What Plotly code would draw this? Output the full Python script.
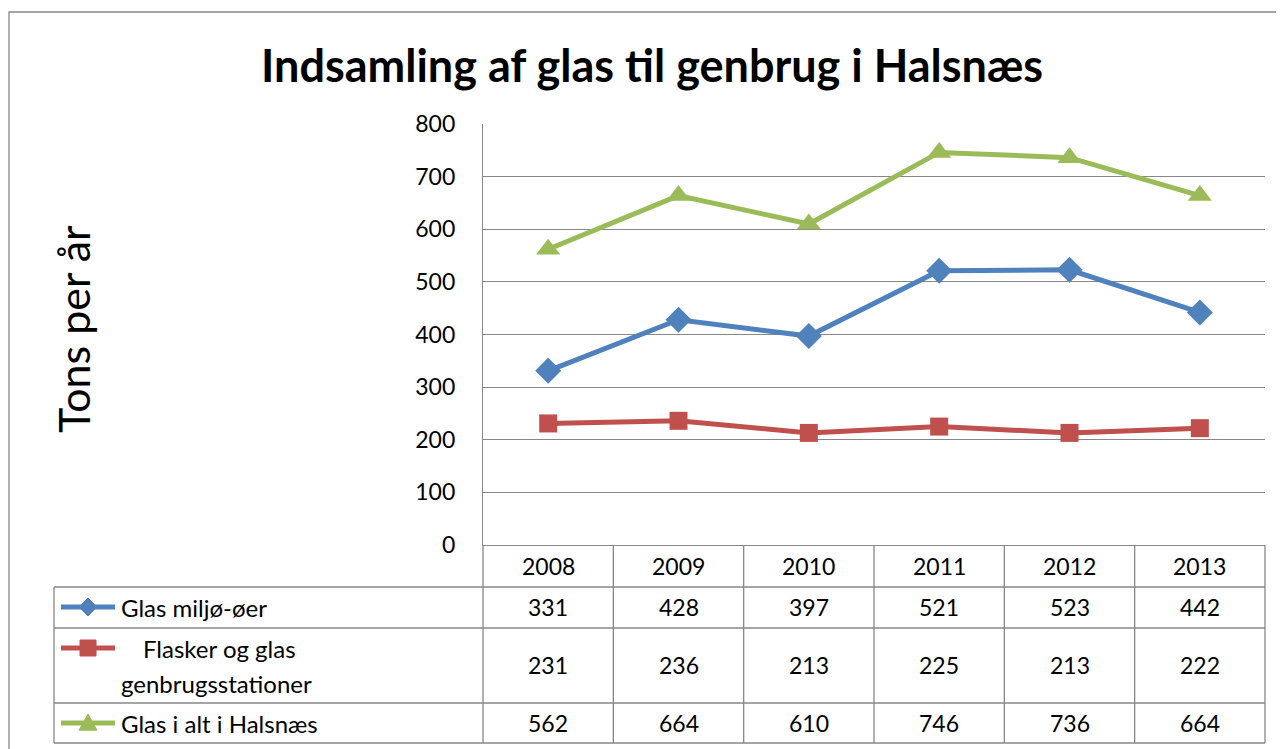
import plotly.graph_objects as go

years = ["2008", "2009", "2010", "2011", "2012", "2013"]
series_names = ["Glas miljø-øer", "Flasker og glas genbrugsstationer", "Glas i alt i Halsnæs"]
miljo = [331, 428, 397, 521, 523, 442]
flasker = [231, 236, 213, 225, 213, 222]
i_alt = [562, 664, 610, 746, 736, 664]
y_ticks = [0, 100, 200, 300, 400, 500, 600, 700, 800]

title_text = "Indsamling af glas til genbrug i Halsnæs"
y_title = "Tons per år"

BLUE = "#4F81BD"
RED = "#C0504D"
GREEN = "#9BBB59"
GRID = "#878787"
FONT = "Lato"

OFF = 8  # page body margin
W, H = 1284 - OFF, 749 - OFF
L, R, T, B = 483, 1265, 124, 545  # plot area in screen pixels
PW, PH = R - L, B - T


def px2x(px):
    return (px - L) / PW


def py2y(py):
    return (B - py) / PH


fig = go.Figure()
for name, vals, col, sym, sz in [
    (series_names[0], miljo, BLUE, "diamond", 20),
    (series_names[1], flasker, RED, "square", 18),
    (series_names[2], i_alt, GREEN, "triangle-up", 21),
]:
    fig.add_trace(go.Scatter(
        x=years, y=vals, name=name, mode="lines+markers",
        line=dict(color=col, width=5),
        marker=dict(symbol=sym, size=sz, color=col),
        cliponaxis=False, showlegend=False,
    ))

shapes = []
line_style = dict(color=GRID, width=1.3)
# outer frame
shapes.append(dict(type="rect", xref="paper", yref="paper",
                   x0=px2x(9), x1=px2x(1283), y0=py2y(770), y1=py2y(12),
                   line=line_style, layer="below"))
# table horizontal lines
for py in [587, 628, 703, 743]:
    shapes.append(dict(type="line", xref="paper", yref="paper",
                       x0=px2x(54), x1=1, y0=py2y(py), y1=py2y(py), line=line_style))
# table vertical lines
shapes.append(dict(type="line", xref="paper", yref="paper",
                   x0=px2x(54), x1=px2x(54), y0=py2y(587), y1=py2y(743), line=line_style))
shapes.append(dict(type="line", xref="paper", yref="paper",
                   x0=0, x1=0, y0=0, y1=py2y(743), line=line_style))
shapes.append(dict(type="line", xref="paper", yref="paper",
                   x0=1, x1=1, y0=0, y1=py2y(743), line=line_style))
for i in range(1, len(years)):
    shapes.append(dict(type="line", xref="x", yref="paper",
                       x0=i - 0.5, x1=i - 0.5, y0=0, y1=py2y(743), line=line_style))


def diamond(cx, cy, r):
    return "M {} {} L {} {} L {} {} L {} {} Z".format(
        px2x(cx), py2y(cy - r), px2x(cx + r), py2y(cy),
        px2x(cx), py2y(cy + r), px2x(cx - r), py2y(cy))


def square(cx, cy, r):
    return "M {} {} L {} {} L {} {} L {} {} Z".format(
        px2x(cx - r), py2y(cy - r), px2x(cx + r), py2y(cy - r),
        px2x(cx + r), py2y(cy + r), px2x(cx - r), py2y(cy + r))


def triangle(cx, cy, r):
    return "M {} {} L {} {} L {} {} Z".format(
        px2x(cx), py2y(cy - r), px2x(cx + r), py2y(cy + r * 0.8),
        px2x(cx - r), py2y(cy + r * 0.8))


key_rows = [(607, BLUE, diamond, 9), (648, RED, square, 8), (723, GREEN, triangle, 9)]
for cy, col, fn, r in key_rows:
    shapes.append(dict(type="line", xref="paper", yref="paper",
                       x0=px2x(61), x1=px2x(115), y0=py2y(cy), y1=py2y(cy),
                       line=dict(color=col, width=5)))
    shapes.append(dict(type="path", xref="paper", yref="paper",
                       path=fn(88, cy, r), fillcolor=col, line=dict(color=col, width=1)))

annotations = []
annotations.append(dict(text="<b>" + title_text + "</b>", xref="paper", yref="paper",
                        x=px2x(652), y=py2y(65), xanchor="center", yanchor="middle",
                        showarrow=False, font=dict(family=FONT, size=45, color="black")))
annotations.append(dict(text=y_title, xref="paper", yref="paper", textangle=-90,
                        x=px2x(73), y=py2y(329), xanchor="center", yanchor="middle",
                        showarrow=False, font=dict(family=FONT, size=43, color="black")))
tfont = dict(family=FONT, size=23, color="black")
lfont = dict(family=FONT, size=24, color="black")
for i, yr in enumerate(years):
    annotations.append(dict(text=yr, xref="x", yref="paper", x=i, y=py2y(566),
                            xanchor="center", yanchor="middle",
                            showarrow=False, font=tfont))
for vals, cy in [(miljo, 607), (flasker, 665), (i_alt, 723)]:
    for i, v in enumerate(vals):
        annotations.append(dict(text=str(v), xref="x", yref="paper", x=i, y=py2y(cy),
                                xanchor="center", yanchor="middle",
                                showarrow=False, font=tfont))
for txt, px, cy in [(series_names[0], 119, 607), ("Flasker og glas", 141, 648),
                    ("genbrugsstationer", 119, 683), (series_names[2], 119, 723)]:
    annotations.append(dict(text=txt, xref="paper", yref="paper", x=px2x(px), y=py2y(cy),
                            xanchor="left", yanchor="middle", showarrow=False, font=lfont))

fig.update_layout(
    width=W, height=H, autosize=False,
    margin=dict(l=L - OFF, r=W - (R - OFF), t=T - OFF, b=H - (B - OFF), pad=0),
    paper_bgcolor="white", plot_bgcolor="white",
    shapes=shapes, annotations=annotations,
    xaxis=dict(type="category", range=[-0.5, 5.5], showticklabels=False, showgrid=False,
               showline=True, linecolor=GRID, linewidth=1.3, zeroline=False, ticks=""),
    yaxis=dict(range=[0, 800], tickvals=y_ticks, showgrid=True, gridcolor=GRID, gridwidth=1.3,
               showline=True, linecolor=GRID, linewidth=1.3, zeroline=False, ticks="",
               ticklabelstandoff=22, tickfont=dict(family=FONT, size=23, color="black")),
    showlegend=False,
)

fig.write_html("out.html")
